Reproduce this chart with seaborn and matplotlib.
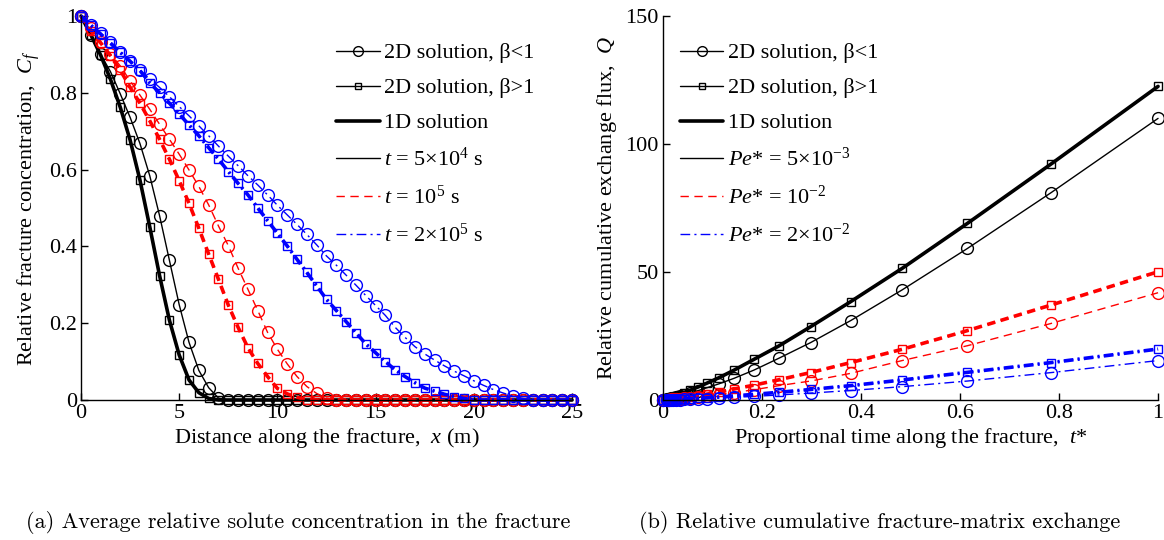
import numpy as np
import pandas as pd
import matplotlib
matplotlib.use("Agg")
import matplotlib.pyplot as plt
from matplotlib.lines import Line2D
import seaborn as sns

# ---------------- data: panel (a) ----------------
x_dist = np.arange(0, 25.01, 0.5)
N = len(x_dist)

def pad(v):
    return list(v) + [0.0] * (N - len(v))

cf_t1_b_lt1 = pad([1, 0.95, 0.90, 0.855, 0.797, 0.736, 0.668, 0.584, 0.48, 0.364,
                   0.248, 0.150, 0.077, 0.032, 0.005])
cf_t1_b_gt1 = pad([1, 0.951, 0.898, 0.835, 0.762, 0.677, 0.573, 0.451, 0.324, 0.208,
                   0.117, 0.052, 0.019, 0.004])
cf_t2_b_lt1 = pad([1, 0.968, 0.933, 0.901, 0.870, 0.831, 0.794, 0.757, 0.718, 0.679,
                   0.640, 0.599, 0.556, 0.508, 0.453, 0.402, 0.343, 0.288, 0.233, 0.176,
                   0.132, 0.094, 0.061, 0.035, 0.017, 0.005])
cf_t2_b_gt1 = pad([1, 0.962, 0.930, 0.896, 0.859, 0.814, 0.773, 0.727, 0.679, 0.627,
                   0.571, 0.512, 0.447, 0.380, 0.314, 0.247, 0.189, 0.136, 0.095, 0.061,
                   0.030, 0.016, 0.007])
cf_t3_b_lt1 = pad([1, 0.977, 0.955, 0.933, 0.907, 0.884, 0.859, 0.836, 0.814, 0.790,
                   0.764, 0.740, 0.714, 0.688, 0.661, 0.635, 0.610, 0.584, 0.560, 0.534,
                   0.507, 0.482, 0.457, 0.431, 0.404, 0.375, 0.351, 0.325, 0.299, 0.272,
                   0.246, 0.220, 0.189, 0.163, 0.139, 0.120, 0.104, 0.089, 0.075, 0.063,
                   0.050, 0.038, 0.027, 0.018, 0.010, 0.004])
cf_t3_b_gt1 = pad([1, 0.976, 0.953, 0.929, 0.905, 0.882, 0.858, 0.826, 0.800, 0.773,
                   0.745, 0.716, 0.688, 0.657, 0.627, 0.595, 0.564, 0.534, 0.500, 0.467,
                   0.434, 0.401, 0.366, 0.332, 0.297, 0.262, 0.233, 0.204, 0.175, 0.146,
                   0.123, 0.100, 0.078, 0.061, 0.045, 0.031, 0.023, 0.015, 0.009, 0.004])
# 1D solution coincides with the beta>1 curves
cf_t1_1d = cf_t1_b_gt1
cf_t2_1d = cf_t2_b_gt1
cf_t3_1d = cf_t3_b_gt1

# ---------------- data: panel (b) ----------------
t_star = [0, 0.008, 0.010, 0.013, 0.016, 0.021, 0.027, 0.034, 0.043, 0.055, 0.070,
          0.089, 0.113, 0.144, 0.184, 0.234, 0.298, 0.379, 0.483, 0.615, 0.784, 1.0]
q_p1_gt1 = [0, 0.37, 0.49, 0.67, 0.86, 1.2, 1.6, 2.1, 2.8, 3.8, 5.0, 6.6, 8.7, 11.7,
            15.9, 21.1, 28.6, 38.4, 51.4, 69.0, 92.2, 122.5]
q_p1_lt1 = [0, 0.27, 0.35, 0.48, 0.62, 0.86, 1.15, 1.5, 2.0, 2.7, 3.6, 4.8, 6.3, 8.5,
            11.7, 16.3, 22.4, 31.0, 43.0, 59.2, 81.0, 110.0]
q_p2_gt1 = [0, 0.11, 0.15, 0.21, 0.27, 0.37, 0.51, 0.68, 0.92, 1.26, 1.7, 2.3, 3.1, 4.3,
            5.8, 7.9, 10.7, 14.6, 19.8, 27.1, 37.1, 50.1]
q_p2_lt1 = [0, 0.08, 0.11, 0.15, 0.19, 0.26, 0.36, 0.48, 0.64, 0.88, 1.2, 1.6, 2.1, 2.9,
            4.0, 5.6, 7.4, 10.4, 15.4, 21.2, 29.9, 41.9]
q_p3_gt1 = [0, 0.04, 0.05, 0.07, 0.09, 0.13, 0.18, 0.24, 0.33, 0.46, 0.63, 0.86, 1.17, 1.6,
            2.2, 3.0, 4.1, 5.6, 7.8, 10.8, 14.6, 19.9]
q_p3_lt1 = [0, 0.025, 0.03, 0.045, 0.06, 0.08, 0.11, 0.15, 0.21, 0.29, 0.40, 0.55, 0.75,
            1.03, 1.4, 1.95, 2.7, 3.7, 5.2, 7.4, 10.7, 15.4]
q_p1_1d = q_p1_gt1
q_p2_1d = q_p2_gt1
q_p3_1d = q_p3_gt1

xticks_a = [0, 5, 10, 15, 20, 25]
yticks_a = [0, 0.2, 0.4, 0.6, 0.8, 1]
yticklabels_a = ["0", "0.2", "0.4", "0.6", "0.8", "1"]
xticks_b = [0, 0.2, 0.4, 0.6, 0.8, 1]
xticklabels_b = ["0", "0.2", "0.4", "0.6", "0.8", "1"]
yticks_b = [0, 50, 100, 150]

legend_a = ["2D solution, β<1", "2D solution, β>1", "1D solution",
            r"$t$ = 5×10$^4$ s", r"$t$ = 10$^5$ s", r"$t$ = 2×10$^5$ s"]
legend_b = ["2D solution, β<1", "2D solution, β>1", "1D solution",
            r"$Pe$* = 5×10$^{-3}$", r"$Pe$* = 10$^{-2}$", r"$Pe$* = 2×10$^{-2}$"]

# ---------------- style ----------------
sns.set_theme(style="white")
plt.rcParams.update({
    "font.family": ["Liberation Serif", "DejaVu Serif"],
    "font.weight": "normal",
    "mathtext.fontset": "custom",
    "mathtext.rm": "Liberation Serif",
    "mathtext.it": "Liberation Serif:italic",
    "mathtext.bf": "Liberation Serif:bold",
    "lines.scale_dashes": False,
    "axes.edgecolor": "black",
    "axes.linewidth": 1.0,
    "xtick.color": "black",
    "ytick.color": "black",
    "text.color": "black",
    "axes.labelcolor": "black",
})

DASH = (0, (6, 4))
DASHDOT = (0, (7, 3, 1.5, 3))
colors = ["black", "red", "blue"]
styles = ["-", DASH, DASHDOT]

fig = plt.figure(figsize=(11.64, 5.40), dpi=100)
ax1 = fig.add_axes([0.0696, 0.2593, 0.4218, 0.7111])
ax2 = fig.add_axes([0.5696, 0.2593, 0.4253, 0.7111])


def draw(ax, x, y, color, ls, lw, marker=None, ms=0):
    kw = dict(color=color, linestyle=ls, linewidth=lw, ax=ax, sort=False,
              estimator=None, clip_on=False)
    if marker:
        kw.update(marker=marker, markersize=ms, markerfacecolor="none",
                  markeredgecolor=color, markeredgewidth=1.0)
    sns.lineplot(x=list(x), y=list(y), **kw)


series_a = [(cf_t1_b_lt1, cf_t1_b_gt1, cf_t1_1d),
            (cf_t2_b_lt1, cf_t2_b_gt1, cf_t2_1d),
            (cf_t3_b_lt1, cf_t3_b_gt1, cf_t3_1d)]
for (lt1, gt1, d1), c, ls in zip(series_a, colors, styles):
    draw(ax1, x_dist, d1, c, ls, 2.6)
    draw(ax1, x_dist, gt1, c, ls, 1.0, "s", 5.5)
    draw(ax1, x_dist, lt1, c, ls, 1.0, "o", 8.5)

series_b = [(q_p1_lt1, q_p1_gt1, q_p1_1d),
            (q_p2_lt1, q_p2_gt1, q_p2_1d),
            (q_p3_lt1, q_p3_gt1, q_p3_1d)]
for (lt1, gt1, d1), c, ls in zip(series_b, colors, styles):
    draw(ax2, t_star, d1, c, ls, 2.6)
    draw(ax2, t_star, gt1, c, ls, 1.0, "s", 5.5)
    draw(ax2, t_star, lt1, c, ls, 1.0, "o", 8.5)

FS = 16
for ax in (ax1, ax2):
    sns.despine(ax=ax)
    ax.tick_params(direction="in", length=5, width=1, labelsize=FS, pad=3,
                   bottom=True, left=True, top=False, right=False)

ax1.set_xlim(0, 25)
ax1.set_ylim(0, 1)
ax1.set_xticks(xticks_a)
ax1.set_yticks(yticks_a)
ax1.set_yticklabels(yticklabels_a)
ax1.set_xlabel(r"Distance along the fracture,  $x$ (m)", fontsize=FS, labelpad=2)
ax1.set_ylabel(r"Relative fracture concentration,  $C_f$", fontsize=FS, labelpad=5)

ax2.set_xlim(0, 1)
ax2.set_ylim(0, 150)
ax2.set_xticks(xticks_b)
ax2.set_xticklabels(xticklabels_b)
ax2.set_yticks(yticks_b)
ax2.set_xlabel(r"Proportional time along the fracture,  $t$*", fontsize=FS, labelpad=2)
ax2.set_ylabel(r"Relative cumulative exchange flux,  $Q$", fontsize=FS, labelpad=5)


def legend_handles():
    return [
        Line2D([], [], color="black", lw=1.0, marker="o", ms=7, mfc="none", mec="black", mew=1.0),
        Line2D([], [], color="black", lw=1.0, marker="s", ms=5, mfc="none", mec="black", mew=1.0),
        Line2D([], [], color="black", lw=2.6),
        Line2D([], [], color="black", lw=1.0),
        Line2D([], [], color="red", lw=1.0, ls=DASH),
        Line2D([], [], color="blue", lw=1.0, ls=DASHDOT),
    ]


for ax, labels, xa in ((ax1, legend_a, 0.52), (ax2, legend_b, 0.034)):
    leg = ax.legend(legend_handles(), labels, loc="upper left", bbox_to_anchor=(xa, 0.93),
                    frameon=False, fontsize=FS, handlelength=1.95, handletextpad=0.2,
                    labelspacing=0.65, borderaxespad=0, borderpad=0)
    for t in leg.get_texts():
        t.set_fontweight("normal")

fig.text(298 / 1164, 1 - 522 / 540, "(a) Average relative solute concentration in the fracture",
         ha="center", va="center", fontsize=16, family="cmr10")
fig.text(880 / 1164, 1 - 522 / 540, "(b) Relative cumulative fracture-matrix exchange",
         ha="center", va="center", fontsize=16, family="cmr10")

fig.savefig("out.png", dpi=100)
